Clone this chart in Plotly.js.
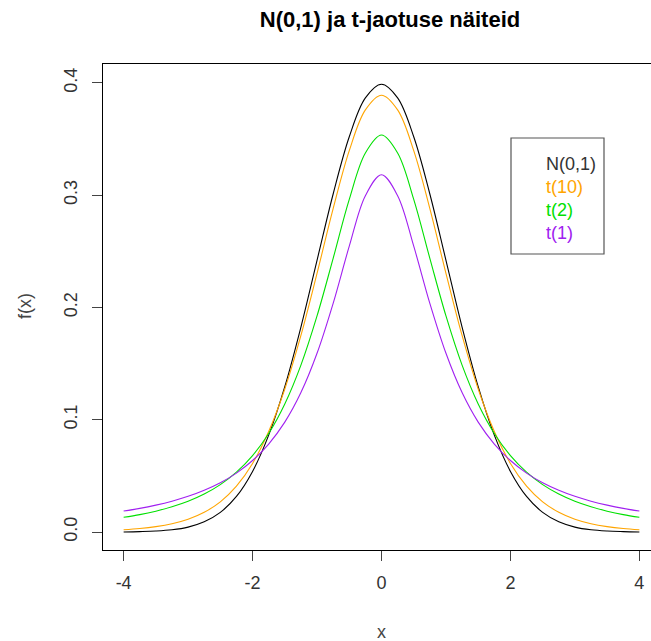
<!DOCTYPE html>
<html>
<head>
<meta charset="utf-8">
<script src="https://cdn.plot.ly/plotly-3.0.1.min.js"></script>
<style>
  html, body { margin: 0; padding: 0; overflow: hidden; background: #fff; }
  #chart { width: 670px; height: 641px; }
</style>
</head>
<body>
<div id="chart"></div>
<script>
// x grid
var xs = [-4, -3.75, -3.5, -3.25, -3, -2.75, -2.5, -2.25, -2, -1.75, -1.5, -1.25, -1, -0.75, -0.5, -0.25,
          0, 0.25, 0.5, 0.75, 1, 1.25, 1.5, 1.75, 2, 2.25, 2.5, 2.75, 3, 3.25, 3.5, 3.75, 4];

// N(0,1)
var normVals = [0.0001, 0.0004, 0.0009, 0.0020, 0.0044, 0.0091, 0.0175, 0.0317, 0.0540, 0.0863, 0.1295, 0.1826, 0.2420, 0.3011, 0.3521, 0.3867,
                0.3989, 0.3867, 0.3521, 0.3011, 0.2420, 0.1826, 0.1295, 0.0863, 0.0540, 0.0317, 0.0175, 0.0091, 0.0044, 0.0020, 0.0009, 0.0004, 0.0001];
// t(10)
var t10Vals = [0.0020, 0.0031, 0.0048, 0.0074, 0.0114, 0.0176, 0.0269, 0.0409, 0.0611, 0.0895, 0.1274, 0.1751, 0.2304, 0.2880, 0.3397, 0.3760,
               0.3891, 0.3760, 0.3397, 0.2880, 0.2304, 0.1751, 0.1274, 0.0895, 0.0611, 0.0409, 0.0269, 0.0176, 0.0114, 0.0074, 0.0048, 0.0031, 0.0020];
// t(2)
var t2Vals = [0.0131, 0.0155, 0.0186, 0.0225, 0.0274, 0.0338, 0.0422, 0.0533, 0.0680, 0.0878, 0.1141, 0.1487, 0.1925, 0.2438, 0.2963, 0.3376,
              0.3536, 0.3376, 0.2963, 0.2438, 0.1925, 0.1487, 0.1141, 0.0878, 0.0680, 0.0533, 0.0422, 0.0338, 0.0274, 0.0225, 0.0186, 0.0155, 0.0131];
// t(1)
var t1Vals = [0.0187, 0.0211, 0.0240, 0.0275, 0.0318, 0.0372, 0.0439, 0.0525, 0.0637, 0.0784, 0.0979, 0.1242, 0.1592, 0.2037, 0.2546, 0.2996,
              0.3183, 0.2996, 0.2546, 0.2037, 0.1592, 0.1242, 0.0979, 0.0784, 0.0637, 0.0525, 0.0439, 0.0372, 0.0318, 0.0275, 0.0240, 0.0211, 0.0187];

var seriesNames = ["N(0,1)", "t(10)", "t(2)", "t(1)"];
var seriesColors = ["#000000", "#FFA500", "#00E000", "#A020F0"];
var seriesData = [normVals, t10Vals, t2Vals, t1Vals];

var xTickVals = [-4, -2, 0, 2, 4];
var xTickText = ["-4", "-2", "0", "2", "4"];
var yTickVals = [0.0, 0.1, 0.2, 0.3, 0.4];
var yTickText = ["0.0", "0.1", "0.2", "0.3", "0.4"];

var traces = seriesData.map(function (ys, i) {
  return {
    x: xs, y: ys, type: "scatter", mode: "lines",
    name: seriesNames[i],
    line: { color: seriesColors[i], width: 1.1, shape: "spline", smoothing: 1 },
    hoverinfo: "skip"
  };
});

// plot area geometry (pixels) used to place annotations
var L = 103, R = 660, T = 64, B = 550;
var W = R - L, H = B - T;
function px(x) { return (x - L) / W; }
function py(y) { return (B - y) / H; }

var font = "Liberation Sans, Arial, sans-serif";

var annotations = [
  { text: "x", xref: "paper", yref: "paper", x: px(381), y: py(632), showarrow: false,
    xanchor: "center", yanchor: "middle", font: { family: font, size: 18, color: "#444" } },
  { text: "f(x)", xref: "paper", yref: "paper", x: px(25), y: py(306), showarrow: false, textangle: -90,
    xanchor: "center", yanchor: "middle", font: { family: font, size: 18, color: "#444" } }
];
var legendY = [164, 187, 210, 233];
seriesNames.forEach(function (n, i) {
  annotations.push({
    text: n, xref: "paper", yref: "paper", x: px(544), y: py(legendY[i]), showarrow: false,
    xanchor: "left", yanchor: "middle", font: { family: font, size: 18, color: seriesColors[i] === "#000000" ? "#333" : seriesColors[i] }
  });
});

var layout = {
  width: 670, height: 641,
  margin: { l: L, r: 670 - R, t: T, b: 641 - B, pad: 0 },
  paper_bgcolor: "#fff", plot_bgcolor: "#fff",
  showlegend: false,
  title: {
    text: "<b>N(0,1) ja t-jaotuse näiteid</b>",
    font: { family: font, size: 22, color: "#000" },
    xref: "paper", x: px(390), xanchor: "center",
    yref: "container", y: 1 - 19 / 641, yanchor: "middle"
  },
  xaxis: {
    range: [-4.32, 4.32], tickvals: xTickVals, ticktext: xTickText, ticks: "outside", ticklen: 10, tickwidth: 1, tickcolor: "#444",
    showline: true, linecolor: "#000", linewidth: 1, mirror: true, showgrid: false, zeroline: false,
    tickfont: { family: font, size: 18, color: "#333" }, ticklabelstandoff: 6
  },
  yaxis: {
    range: [-0.016, 0.4169], tickvals: yTickVals, ticktext: yTickText, tickangle: -90,
    ticks: "outside", ticklen: 10, tickwidth: 1, tickcolor: "#444",
    showline: true, linecolor: "#000", linewidth: 1, mirror: true, showgrid: false, zeroline: false,
    tickfont: { family: font, size: 18, color: "#333" }, ticklabelstandoff: 8
  },
  shapes: [
    { type: "rect", xref: "paper", yref: "paper", x0: px(511), x1: px(604), y0: py(254), y1: py(138),
      line: { color: "#555", width: 1.2 }, fillcolor: "rgba(0,0,0,0)" }
  ],
  annotations: annotations
};

Plotly.newPlot("chart", traces, layout, { staticPlot: true, displayModeBar: false });
</script>
</body>
</html>
